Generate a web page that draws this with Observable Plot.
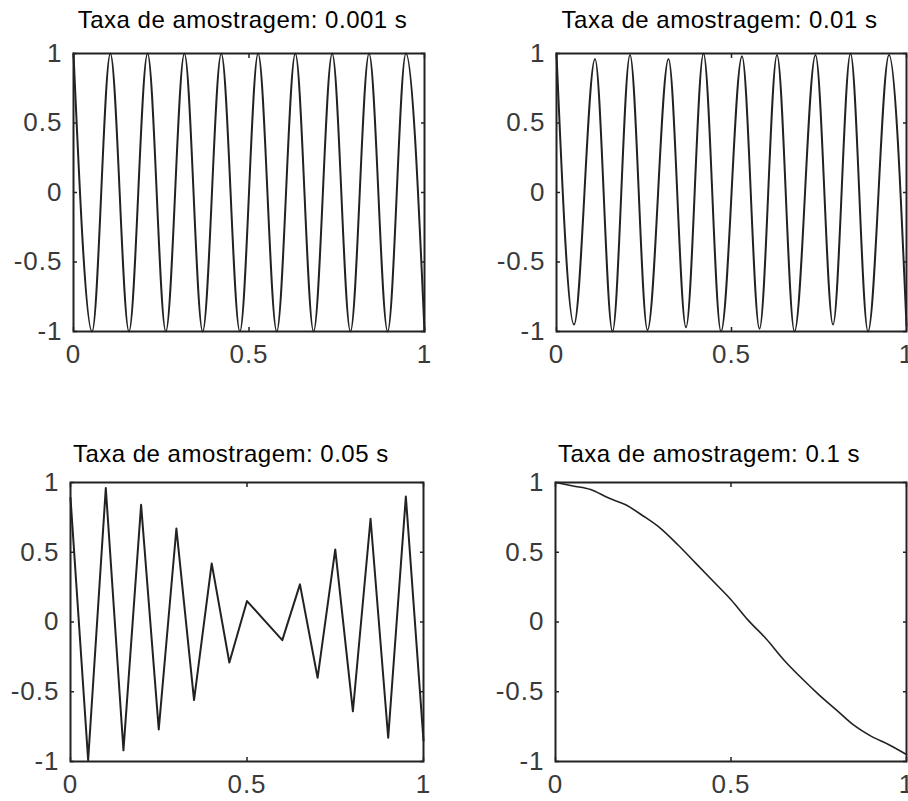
<!DOCTYPE html>
<html><head><meta charset="utf-8">
<script src="https://cdn.jsdelivr.net/npm/d3@7"></script>
<script src="https://cdn.jsdelivr.net/npm/@observablehq/plot@0.6"></script>
<style>
html,body{margin:0;padding:0;background:#fff;overflow:hidden;width:908px;height:801px}
#root{position:relative;width:908px;height:801px;overflow:hidden;background:#fff}
.panel{position:absolute;width:454px}
.title{position:absolute;font-family:"Liberation Sans",Arial,sans-serif;font-size:24px;letter-spacing:0.5px;line-height:24px;color:#000;white-space:nowrap;transform:translateX(-50%)}
svg text{letter-spacing:1px}
</style></head><body><div id="root"></div>
<script>
// ---- tick labels ----
const xTicks = [0, 0.5, 1];
const xTickLabels = ["0", "0.5", "1"];
const yTicks = [-1, -0.5, 0, 0.5, 1];
const yTickLabels = ["-1", "-0.5", "0", "0.5", "1"];

// ---- titles ----
const titles = [
  "Taxa de amostragem: 0.001 s",
  "Taxa de amostragem: 0.01 s",
  "Taxa de amostragem: 0.05 s",
  "Taxa de amostragem: 0.1 s"
];

// ---- series ----
// 0.001 s : extrema of the densely sampled signal
const t001 = [0, 0.053, 0.105, 0.158, 0.211, 0.263, 0.316, 0.368, 0.421, 0.474, 0.526, 0.579, 0.632, 0.684, 0.737, 0.789, 0.842, 0.895, 0.947, 1.0];
const y001 = [1, -1, 1, -1, 1, -1, 1, -1, 1, -1, 1, -1, 1, -1, 1, -1, 1, -1, 1, -1];

// 0.01 s : extrema
const t01 = [0, 0.05, 0.11, 0.16, 0.21, 0.26, 0.32, 0.37, 0.42, 0.47, 0.53, 0.58, 0.63, 0.68, 0.74, 0.79, 0.84, 0.89, 0.95, 1.0];
const y01 = [1, -0.95, 0.96, -1, 0.99, -0.99, 0.96, -0.97, 1, -1, 0.98, -0.98, 0.99, -1, 0.99, -0.95, 1, -1, 0.99, -0.96];

// 0.05 s
const t05 = [0, 0.05, 0.1, 0.15, 0.2, 0.25, 0.3, 0.35, 0.4, 0.45, 0.5, 0.55, 0.6, 0.65, 0.7, 0.75, 0.8, 0.85, 0.9, 0.95, 1.0];
const y05 = [0.89, -0.99, 0.96, -0.92, 0.84, -0.77, 0.67, -0.56, 0.42, -0.29, 0.15, 0.01, -0.13, 0.27, -0.40, 0.52, -0.64, 0.74, -0.83, 0.90, -0.85];

// 0.1 s
const t1 = [0, 0.05, 0.1, 0.15, 0.2, 0.25, 0.3, 0.35, 0.4, 0.45, 0.5, 0.55, 0.6, 0.65, 0.7, 0.75, 0.8, 0.85, 0.9, 0.95, 1.0];
const y1 = [1.0, 0.975, 0.95, 0.89, 0.84, 0.76, 0.67, 0.55, 0.42, 0.29, 0.16, 0.01, -0.12, -0.27, -0.40, -0.52, -0.63, -0.74, -0.82, -0.88, -0.95];

const series = [[t001, y001], [t01, y01], [t05, y05], [t1, y1]];
const curves = ["monotone-x", "monotone-x", "linear", "monotone-x"];
const widths = [2, 2, 2, 1.6];

// ---- layout ----
const layout = [
  {left: 0,   top: 0,   width: 454, height: 390, ml: 73, mr: 30, mt: 53, mb: 59, tx: 242.5, ty: 8},
  {left: 480, top: 0,   width: 454, height: 390, ml: 76, mr: 28, mt: 53, mb: 59, tx: 719.5, ty: 8},
  {left: 0,   top: 420, width: 454, height: 381, ml: 70, mr: 31, mt: 62, mb: 40, tx: 230.8, ty: 442},
  {left: 480, top: 420, width: 454, height: 381, ml: 75, mr: 28, mt: 62, mb: 40, tx: 709,   ty: 442}
];

const root = document.getElementById("root");
const fmtX = d => xTickLabels[xTicks.indexOf(d)];
const fmtY = d => yTickLabels[yTicks.indexOf(d)];
const ink = "#222";

layout.forEach((L, k) => {
  const [ts, vs] = series[k];
  const data = ts.map((t, i) => ({t, v: vs[i]}));
  const chart = Plot.plot({
    width: L.width, height: L.height,
    marginLeft: L.ml, marginRight: L.mr, marginTop: L.mt, marginBottom: L.mb,
    style: {fontFamily: '"Liberation Sans", Arial, sans-serif', fontSize: "26px", color: "#3a3a3a", background: "transparent", maxWidth: "none", overflow: "visible"},
    x: {domain: [0, 1]},
    y: {domain: [-1, 1]},
    marks: [
      Plot.line(data, {x: "t", y: "v", stroke: ink, strokeWidth: widths[k], curve: curves[k]}),
      Plot.frame({stroke: ink, strokeWidth: 2}),
      // inward ticks on all four sides
      Plot.axisY({anchor: "left", ticks: yTicks, tickSize: 4, dx: 4, tickFormat: () => "", label: null, stroke: ink, strokeWidth: 1.5}),
      Plot.axisY({anchor: "right", ticks: yTicks, tickSize: 4, dx: -4, tickFormat: () => "", label: null, stroke: ink, strokeWidth: 1.5}),
      Plot.axisX({anchor: "top", ticks: xTicks, tickSize: 4, dy: 4, tickFormat: () => "", label: null, stroke: ink, strokeWidth: 1.5}),
      Plot.axisX({anchor: "bottom", ticks: xTicks, tickSize: 4, dy: -4, tickFormat: () => "", label: null, stroke: ink, strokeWidth: 1.5}),
      // labels
      Plot.axisY({anchor: "left", ticks: yTicks, tickSize: 0, tickPadding: 11, tickFormat: fmtY, label: null, fontSize: 26}),
      Plot.axisX({anchor: "bottom", ticks: xTicks, tickSize: 0, tickPadding: 13, tickFormat: fmtX, label: null, fontSize: 26})
    ]
  });
  const div = document.createElement("div");
  div.className = "panel";
  div.style.left = L.left + "px";
  div.style.top = L.top + "px";
  div.appendChild(chart);
  root.appendChild(div);
});

layout.forEach((L, k) => {
  const t = document.createElement("div");
  t.className = "title";
  t.style.left = L.tx + "px";
  t.style.top = L.ty + "px";
  t.textContent = titles[k];
  root.appendChild(t);
});
</script>
</body></html>
